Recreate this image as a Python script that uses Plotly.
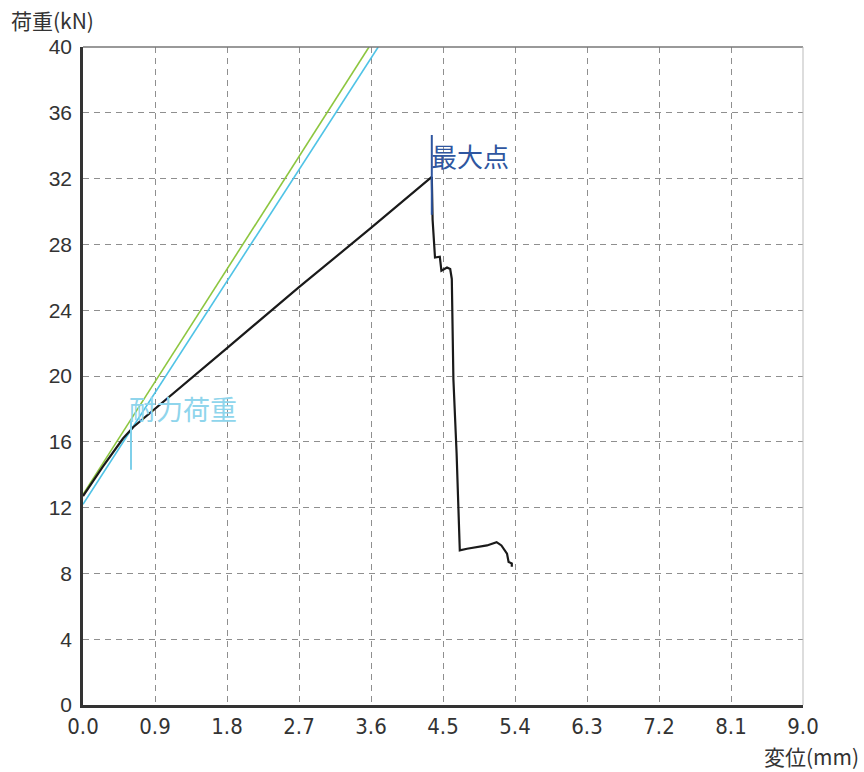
import plotly.graph_objects as go

# Load-displacement curve (black)
disp = [0.0, 0.25, 0.5, 0.63, 1.8, 2.7, 3.6, 4.36, 4.37, 4.40, 4.46, 4.48, 4.55, 4.59, 4.61, 4.63, 4.67, 4.71, 4.80, 5.05, 5.17, 5.23, 5.30, 5.32, 5.36, 5.36]
load = [12.7, 14.5, 16.2, 16.9, 21.7, 25.4, 29.0, 32.1, 29.5, 27.2, 27.25, 26.4, 26.6, 26.5, 25.9, 19.8, 15.3, 9.4, 9.5, 9.7, 9.9, 9.7, 9.2, 8.7, 8.6, 8.4]

# Straight reference lines
green_x = [0.0, 3.575]
green_y = [12.8, 40.0]
blue_x = [0.0, 3.69]
blue_y = [12.2, 40.0]

# Markers
max_x = 4.36
max_marker_y = [29.8, 34.65]
yield_x = 0.6
yield_marker_y = [14.3, 17.3]

x_ticks = [0.0, 0.9, 1.8, 2.7, 3.6, 4.5, 5.4, 6.3, 7.2, 8.1, 9.0]
x_tick_labels = ["0.0", "0.9", "1.8", "2.7", "3.6", "4.5", "5.4", "6.3", "7.2", "8.1", "9.0"]
y_ticks = [0, 4, 8, 12, 16, 20, 24, 28, 32, 36, 40]

fig = go.Figure()
fig.add_trace(go.Scatter(x=green_x, y=green_y, mode="lines",
                         line=dict(color="#8dc63f", width=1.6), hoverinfo="skip"))
fig.add_trace(go.Scatter(x=blue_x, y=blue_y, mode="lines",
                         line=dict(color="#4fc3e6", width=1.6), hoverinfo="skip"))
fig.add_trace(go.Scatter(x=disp, y=load, mode="lines",
                         line=dict(color="#1a1a1a", width=2.2)))
fig.add_trace(go.Scatter(x=[max_x, max_x], y=max_marker_y, mode="lines",
                         line=dict(color="#2f56a0", width=2), hoverinfo="skip"))
fig.add_trace(go.Scatter(x=[yield_x, yield_x], y=yield_marker_y, mode="lines",
                         line=dict(color="#7fd0ea", width=2), hoverinfo="skip"))

fig.add_annotation(x=max_x, y=33.4, text="最大点", showarrow=False, xanchor="left",
                   yanchor="middle", xshift=-3,
                   font=dict(family="Noto Sans CJK JP", size=26, color="#2f56a0"))
fig.add_annotation(x=0.59, y=18.0, text="耐力荷重", showarrow=False, xanchor="left",
                   yanchor="middle", xshift=-3,
                   font=dict(family="Noto Sans CJK JP", size=27, color="#8fd5ec"))

fig.add_annotation(xref="paper", yref="paper", x=-0.101, y=1.041, text="荷重(kN)",
                   showarrow=False, xanchor="left", yanchor="middle", borderpad=0,
                   font=dict(family="Noto Sans CJK JP", size=21, color="#333333"))
fig.add_annotation(xref="paper", yref="paper", x=1.079, y=-0.077, text="変位(mm)",
                   showarrow=False, xanchor="right", yanchor="middle", borderpad=0,
                   font=dict(family="Noto Sans CJK JP", size=21, color="#333333"))

# top and right frame
fig.add_shape(type="line", xref="paper", yref="paper", x0=0, x1=1, y0=1, y1=1,
              line=dict(color="#777777", width=1.5))
fig.add_shape(type="line", xref="paper", yref="paper", x0=1, x1=1, y0=0, y1=1,
              line=dict(color="#bbbbbb", width=1))

fig.update_layout(
    width=864, height=772,
    margin=dict(l=83, r=61, t=47, b=67),
    paper_bgcolor="white", plot_bgcolor="white",
    showlegend=False,
    xaxis=dict(range=[0, 9], tickvals=x_ticks, ticktext=x_tick_labels,
               showgrid=True, gridcolor="#8f8f8f", griddash="6px,5px", gridwidth=1,
               showline=True, linecolor="#333333", linewidth=2.5,
               ticks="", zeroline=False, ticklabelstandoff=0,
               tickfont=dict(family="Liberation Sans Narrow, DejaVu Sans Condensed, Liberation Sans", size=22, color="#333333")),
    yaxis=dict(range=[0, 40], tickvals=y_ticks,
               showgrid=True, gridcolor="#8f8f8f", griddash="6px,5px", gridwidth=1,
               showline=True, linecolor="#333333", linewidth=2.5,
               ticks="", zeroline=False, ticklabelstandoff=4,
               tickfont=dict(family="Liberation Sans, Arial", size=21, color="#333333")),
)

fig.write_html("out.html", config={"displayModeBar": False},
               post_script="document.body.style.margin='0';document.body.style.overflow='hidden';")
